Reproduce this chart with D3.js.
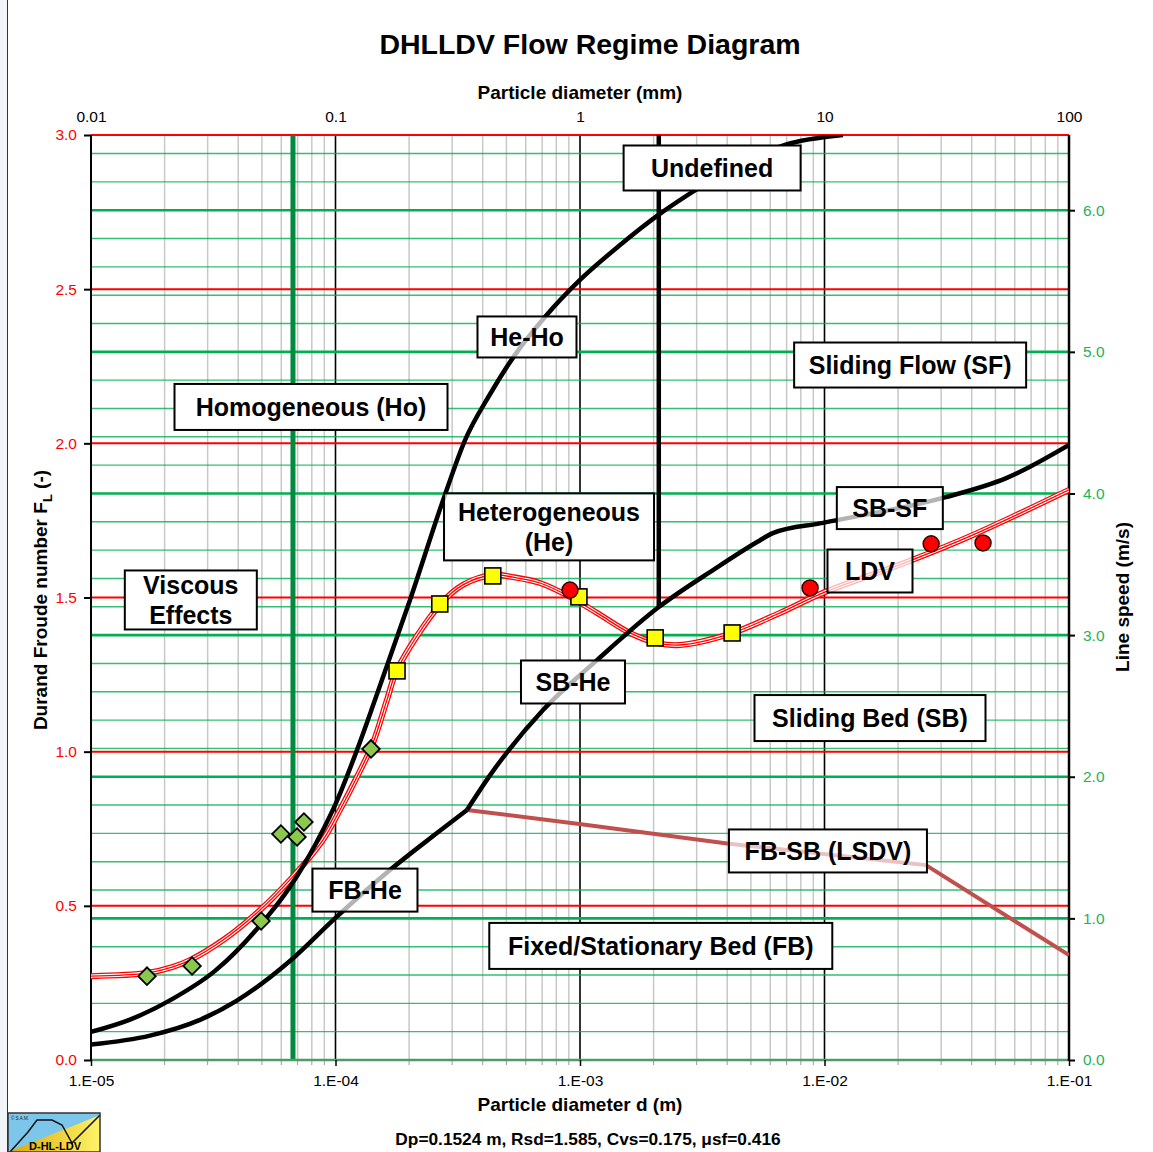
<!DOCTYPE html>
<html><head><meta charset="utf-8">
<script src="https://cdn.jsdelivr.net/npm/d3@7"></script>
<style>
body{margin:0;background:#fff}
svg{display:block}
text{font-family:"Liberation Sans",Arial,Helvetica,sans-serif}
</style>
</head><body>
<svg id="c" width="1153" height="1152"></svg>
<script>
// ---------------- DATA ----------------
const Dp = 0.1524, Rsd = 1.585, Cvs = 0.175, musf = 0.416;
const flTicks = [0, 0.5, 1.0, 1.5, 2.0, 2.5, 3.0];
const speedTicks = [0, 1, 2, 3, 4, 5, 6];
const decadesM = [1e-5, 1e-4, 1e-3, 1e-2, 1e-1];
const decadeLabelsM = ["1.E-05", "1.E-04", "1.E-03", "1.E-02", "1.E-01"];
const decadesMM = [0.01, 0.1, 1, 10, 100];
const decadeLabelsMM = ["0.01", "0.1", "1", "10", "100"];

// He-Ho / Undefined boundary  [d (m), FL]
const heHoCurve = [[1e-5,0.091],[1.444e-5,0.131],[2.165e-5,0.199],[3.215e-5,0.289],[4.77e-5,0.425],
  [6.51e-5,0.561],[8.89e-5,0.746],[1.0e-4,0.830],[1.224e-4,1.005],[1.451e-4,1.168],[2.017e-4,1.492],
  [2.80e-4,1.832],[3.39e-4,2.011],[4.29e-4,2.160],[5.42e-4,2.287],[7.19e-4,2.410],[1e-3,2.530],
  [1.458e-3,2.643],[2.12e-3,2.744],[3.10e-3,2.831],[4.51e-3,2.906],[6.89e-3,2.968],[1.19e-2,3.0]];
// FB-He boundary
const fbHeCurve = [[1e-5,0.050],[1.743e-5,0.079],[2.79e-5,0.130],[3.92e-5,0.191],[6.51e-5,0.321],
  [1.0e-4,0.461],[1.67e-4,0.616],[2.60e-4,0.736],[3.45e-4,0.811]];
// SB-He and SB-SF boundary
const sbHeSfCurve = [[3.45e-4,0.811],[4.29e-4,0.924],[7.06e-4,1.135],[1.174e-3,1.297],[2.10e-3,1.469],
  [3.50e-3,1.589],[5.30e-3,1.680],[6.15e-3,1.709],[9.86e-3,1.742],[3.05e-2,1.823],[5.57e-2,1.888],[0.1,1.995]];
// FB-SB (LSDV) boundary
const fbSbCurve = [[3.45e-4,0.811],[1.03e-3,0.764],[4.0e-3,0.702],[2.6e-2,0.632],[0.1,0.34]];
// SB-SF vertical boundary (Undefined / Sliding Flow)
const sfBoundaryD = 2.10e-3, sfBoundaryFL = [1.469, 3.0];
// Viscous effects limit
const viscousD = 6.70e-5;
// LDV curve
const ldvCurve = [[1e-5,0.272],[1.694e-5,0.282],[2.165e-5,0.302],[2.54e-5,0.324],[3.47e-5,0.389],
  [4.77e-5,0.477],[6.51e-5,0.584],[8.89e-5,0.714],[1.043e-4,0.811],[1.224e-4,0.918],[1.423e-4,1.028],
  [1.624e-4,1.168],[1.785e-4,1.265],[2.67e-4,1.476],[3.32e-4,1.541],[4.40e-4,1.573],[5.32e-4,1.566],
  [6.86e-4,1.547],[9.10e-4,1.502],[1.174e-3,1.450],[1.60e-3,1.385],[2.07e-3,1.352],[2.56e-3,1.346],
  [4.10e-3,1.382],[6.57e-3,1.450],[9.86e-3,1.515],[2.17e-2,1.615],[4.05e-2,1.703],[0.1,1.849]];
// Experimental points
const diamondPts = [[1.694e-5,0.272],[2.59e-5,0.305],[4.96e-5,0.451],[5.98e-5,0.733],[6.96e-5,0.723],[7.43e-5,0.772],[1.397e-4,1.009]];
const squarePts = [[1.785e-4,1.262],[2.67e-4,1.479],[4.40e-4,1.570],[9.9e-4,1.502],[2.03e-3,1.369],[4.19e-3,1.385]];
const circlePts = [[9.10e-4,1.524],[8.73e-3,1.531],[2.73e-2,1.674],[4.45e-2,1.677]];
// Region labels
const regionLabels = ["Undefined","He-Ho","Homogeneous (Ho)","Sliding Flow (SF)","Heterogeneous\n(He)","SB-SF","LDV",
  "Viscous\nEffects","SB-He","Sliding Bed (SB)","FB-SB (LSDV)","FB-He","Fixed/Stationary Bed (FB)"];
const labelD = [3.47e-3,6.07e-4,7.94e-5,2.24e-2,7.47e-4,1.85e-2,1.535e-2,2.56e-5,9.36e-4,1.535e-2,1.033e-2,1.32e-4,2.14e-3];
const labelFL = [2.893,2.345,2.118,2.254,1.729,1.790,1.586,1.492,1.226,1.109,0.678,0.551,0.370];

// ---------------- LAYOUT ----------------
const boxW = [177,99,273,232,210,106,85,132,104,231,198,105,343];
const boxH = [45,41,46,45,67,42,43,59,43,46,43,43,46];
const boxVeil = [1,0.7,0.7,0.7,0.7,0.7,0.7,0.7,0.7,0.7,0.65,0.7,0.7];
const P = {l:91, r:1069, t:135, b:1060};
const svg = d3.select("#c");
const x = d3.scaleLog().domain([1e-5,1e-1]).range([P.l,P.r]);
const xmm = d3.scaleLog().domain([0.01,100]).range([P.l,P.r]);
const y = d3.scaleLinear().domain([0,3]).range([P.b,P.t]);
const vFactor = Math.sqrt(2*9.81*Dp*Rsd);
const yv = d3.scaleLinear().domain([0,3*vFactor]).range([P.b,P.t]);

// left decorative edge
svg.append("rect").attr("x",0).attr("y",0).attr("width",7).attr("height",1152).attr("fill","#f1f5f9");
svg.append("line").attr("x1",7.5).attr("x2",7.5).attr("y1",0).attr("y2",1152).attr("stroke","#333").attr("stroke-width",1);

const grid = svg.append("g");
const allTicks = x.ticks();
const minor = allTicks.filter(v => Math.abs(Math.log10(v) - Math.round(Math.log10(v))) > 1e-6);
grid.selectAll(".vmin").data(minor).join("line")
  .attr("x1",d=>x(d)).attr("x2",d=>x(d)).attr("y1",P.t).attr("y2",P.b)
  .attr("stroke","#c8c8c8").attr("stroke-width",1.5);
grid.selectAll(".vmaj").data(decadesM).join("line")
  .attr("x1",d=>x(d)).attr("x2",d=>x(d)).attr("y1",P.t).attr("y2",P.b)
  .attr("stroke","#000").attr("stroke-width",1.6);
const speedGrid = d3.range(1,33).map(i=>i*0.2).filter(v=>v<3*vFactor);
grid.selectAll(".hg").data(speedGrid).join("line")
  .attr("x1",P.l).attr("x2",P.r).attr("y1",d=>yv(d)).attr("y2",d=>yv(d))
  .attr("stroke","#00b050")
  .attr("stroke-width",d=>Math.abs(d-Math.round(d))<1e-6?2.6:1.4)
  .attr("stroke-opacity",d=>Math.abs(d-Math.round(d))<1e-6?1:0.8);
grid.selectAll(".hr").data(flTicks.filter(v=>v>0)).join("line")
  .attr("x1",P.l).attr("x2",P.r).attr("y1",d=>y(d)).attr("y2",d=>y(d))
  .attr("stroke","#ff0000").attr("stroke-width",2);
grid.append("line").attr("x1",x(viscousD)).attr("x2",x(viscousD)).attr("y1",P.t).attr("y2",P.b)
  .attr("stroke","#008a3e").attr("stroke-width",5);

// axes lines
svg.append("line").attr("x1",P.l).attr("x2",P.r).attr("y1",P.b).attr("y2",P.b).attr("stroke","#4e9a6a").attr("stroke-width",2.5);
svg.append("line").attr("x1",P.l).attr("x2",P.l).attr("y1",P.t).attr("y2",P.b+1).attr("stroke","#000").attr("stroke-width",2);
svg.append("line").attr("x1",P.r).attr("x2",P.r).attr("y1",P.t).attr("y2",P.b+1).attr("stroke","#000").attr("stroke-width",2.5);

// bottom axis
const bAx = d3.axisBottom(x).tickValues(decadesM).tickFormat((d,i)=>decadeLabelsM[i]).tickSize(6).tickPadding(9);
const gb = svg.append("g").attr("transform",`translate(0,${P.b})`).call(bAx);
gb.select(".domain").remove();
gb.selectAll("text").attr("font-size",15.5).attr("fill","#000").attr("font-family","Liberation Sans, Arial, sans-serif");
gb.selectAll(".tick line").attr("stroke","#000").attr("stroke-width",1.5);
svg.append("g").selectAll("line").data(minor).join("line")
  .attr("x1",d=>x(d)).attr("x2",d=>x(d)).attr("y1",P.b+1).attr("y2",P.b+5).attr("stroke","#999").attr("stroke-width",1);

// top axis (mm)
const tAx = d3.axisTop(xmm).tickValues(decadesMM).tickFormat((d,i)=>decadeLabelsMM[i]).tickSize(0).tickPadding(13);
const gt = svg.append("g").attr("transform",`translate(0,${P.t})`).call(tAx);
gt.select(".domain").remove();
gt.selectAll("text").attr("font-size",15.5).attr("fill","#000").attr("font-family","Liberation Sans, Arial, sans-serif");

// left axis
const lAx = d3.axisLeft(y).tickValues(flTicks).tickFormat(d3.format(".1f")).tickSize(7).tickPadding(7);
const gl = svg.append("g").attr("transform",`translate(${P.l},0)`).call(lAx);
gl.select(".domain").remove();
gl.selectAll("text").attr("font-size",15.5).attr("fill","#ff0000").attr("font-family","Liberation Sans, Arial, sans-serif");
gl.selectAll(".tick line").attr("stroke","#000").attr("stroke-width",2);

// right axis
const rAx = d3.axisRight(yv).tickValues(speedTicks).tickFormat(d3.format(".1f")).tickSize(6).tickPadding(8);
const gr = svg.append("g").attr("transform",`translate(${P.r},0)`).call(rAx);
gr.select(".domain").remove();
gr.selectAll("text").attr("font-size",15.5).attr("fill","#1fb25a").attr("font-family","Liberation Sans, Arial, sans-serif");
gr.selectAll(".tick line").attr("stroke","#000").attr("stroke-width",2);

// titles
svg.append("text").attr("x",590).attr("y",54).attr("text-anchor","middle").attr("font-size",28.5).attr("font-weight","bold").text("DHLLDV Flow Regime Diagram");
svg.append("text").attr("x",580).attr("y",99).attr("text-anchor","middle").attr("font-size",19).attr("font-weight","bold").text("Particle diameter (mm)");
svg.append("text").attr("x",580).attr("y",1111).attr("text-anchor","middle").attr("font-size",19).attr("font-weight","bold").text("Particle diameter d (m)");
svg.append("text").attr("x",588).attr("y",1145).attr("text-anchor","middle").attr("font-size",17.3).attr("font-weight","bold")
  .text(`Dp=${Dp} m, Rsd=${Rsd}, Cvs=${Cvs}, \u03bcsf=${musf}`);
const lt = svg.append("text").attr("transform","translate(47,600) rotate(-90)").attr("text-anchor","middle").attr("font-size",19).attr("font-weight","bold");
lt.append("tspan").text("Durand Froude number F");
lt.append("tspan").attr("font-size",13).attr("dy",5).text("L");
lt.append("tspan").attr("dy",-5).text(" (-)");
svg.append("text").attr("transform","translate(1129,597) rotate(-90)").attr("text-anchor","middle").attr("font-size",19).attr("font-weight","bold").text("Line speed (m/s)");

// label boxes base (hide grid)
const labels = regionLabels.map((t,i)=>({t, cx:x(labelD[i]), cy:y(labelFL[i]), w:boxW[i], h:boxH[i], veil:boxVeil[i]}));
svg.append("g").selectAll("rect").data(labels).join("rect")
  .attr("x",d=>d.cx-d.w/2).attr("y",d=>d.cy-d.h/2).attr("width",d=>d.w).attr("height",d=>d.h).attr("fill","#fff");

// curves
svg.append("clipPath").attr("id","pc").append("rect").attr("x",P.l).attr("y",P.t).attr("width",P.r-P.l).attr("height",P.b-P.t);
const cg = svg.append("g").attr("clip-path","url(#pc)");
const line = d3.line().x(d=>x(d[0])).y(d=>y(d[1])).curve(d3.curveMonotoneX);
const lineLin = d3.line().x(d=>x(d[0])).y(d=>y(d[1]));
// LDV triple line
const ldvSmooth = d3.line().x(d=>x(d[0])).y(d=>y(d[1])).curve(d3.curveCatmullRom.alpha(0.5));
cg.append("path").attr("d",ldvSmooth(ldvCurve)).attr("fill","none").attr("stroke","#ff0000").attr("stroke-width",6);
cg.append("path").attr("d",ldvSmooth(ldvCurve)).attr("fill","none").attr("stroke","#fff").attr("stroke-width",3.4);
cg.append("path").attr("d",ldvSmooth(ldvCurve)).attr("fill","none").attr("stroke","#ff0000").attr("stroke-width",1.3);
cg.append("path").attr("d",lineLin(fbSbCurve)).attr("fill","none").attr("stroke","#c0504d").attr("stroke-width",4);
[heHoCurve, fbHeCurve, sbHeSfCurve].forEach(c=>{
  cg.append("path").attr("d",line(c)).attr("fill","none").attr("stroke","#000").attr("stroke-width",4.5).attr("stroke-linejoin","round");
});
cg.append("line").attr("x1",x(sfBoundaryD)).attr("x2",x(sfBoundaryD)).attr("y1",y(sfBoundaryFL[0])).attr("y2",y(sfBoundaryFL[1]))
  .attr("stroke","#000").attr("stroke-width",4.5);

// markers
const mg = svg.append("g");
mg.selectAll(".dia").data(diamondPts).join("rect")
  .attr("x",-6.2).attr("y",-6.2).attr("width",12.4).attr("height",12.4)
  .attr("transform",d=>`translate(${x(d[0])},${y(d[1])}) rotate(45)`)
  .attr("fill","#8cc84b").attr("stroke","#000").attr("stroke-width",1.8);
mg.selectAll(".sq").data(squarePts).join("rect")
  .attr("x",d=>x(d[0])-8).attr("y",d=>y(d[1])-8).attr("width",16).attr("height",16)
  .attr("fill","#ffff00").attr("stroke","#000").attr("stroke-width",1.6);
mg.selectAll(".ci").data(circlePts).join("circle")
  .attr("cx",d=>x(d[0])).attr("cy",d=>y(d[1])).attr("r",8)
  .attr("fill","#ff0000").attr("stroke","#300").attr("stroke-width",1.5);

// label veils, borders & text
const lg = svg.append("g");
lg.selectAll("rect").data(labels).join("rect")
  .attr("x",d=>d.cx-d.w/2).attr("y",d=>d.cy-d.h/2).attr("width",d=>d.w).attr("height",d=>d.h)
  .attr("fill","#fff").attr("fill-opacity",d=>d.veil).attr("stroke","#000").attr("stroke-width",2);
lg.selectAll("text").data(labels).join("text")
  .attr("text-anchor","middle").attr("font-size",25).attr("font-weight","bold").attr("fill","#000")
  .each(function(d){
    const lines = d.t.split("\n");
    const t = d3.select(this);
    lines.forEach((s,k)=>{
      t.append("tspan").attr("x",d.cx).attr("y",d.cy + 9 + (k-(lines.length-1)/2)*30).text(s);
    });
  });

// logo
const logo = svg.append("g");
const lx=8, ly=1113, lw=92, lh=39;
const grad = svg.append("defs").append("linearGradient").attr("id","lgY");
grad.append("stop").attr("offset","0%").attr("stop-color","#d9a800");
grad.append("stop").attr("offset","100%").attr("stop-color","#fff36a");
logo.append("rect").attr("x",lx).attr("y",ly).attr("width",lw).attr("height",lh).attr("fill","#7cc6ec");
logo.append("path").attr("d",`M${lx},${ly+lh} L${lx+lw},${ly+2} L${lx+lw},${ly+lh} Z`).attr("fill","url(#lgY)");
logo.append("path").attr("d",`M${lx+2},${ly+lh} L${lx+20},${ly+19} L${lx+29},${ly+7} L${lx+44},${ly+7} L${lx+54},${ly+12} L${lx+64},${ly+30} L${lx+lw},${ly+2}`)
  .attr("fill","none").attr("stroke","#111").attr("stroke-width",1.5);
logo.append("rect").attr("x",lx).attr("y",ly).attr("width",lw).attr("height",lh).attr("fill","none").attr("stroke","#333").attr("stroke-width",1.5);
logo.append("text").attr("x",lx+47).attr("y",ly+37).attr("text-anchor","middle").attr("font-size",11).attr("font-weight","bold").text("D-HL-LDV");
logo.append("text").attr("x",lx+3).attr("y",ly+7).attr("font-size",4.5).attr("fill","#222").text("\u00a9 S.A.M.");
</script>
</body></html>
